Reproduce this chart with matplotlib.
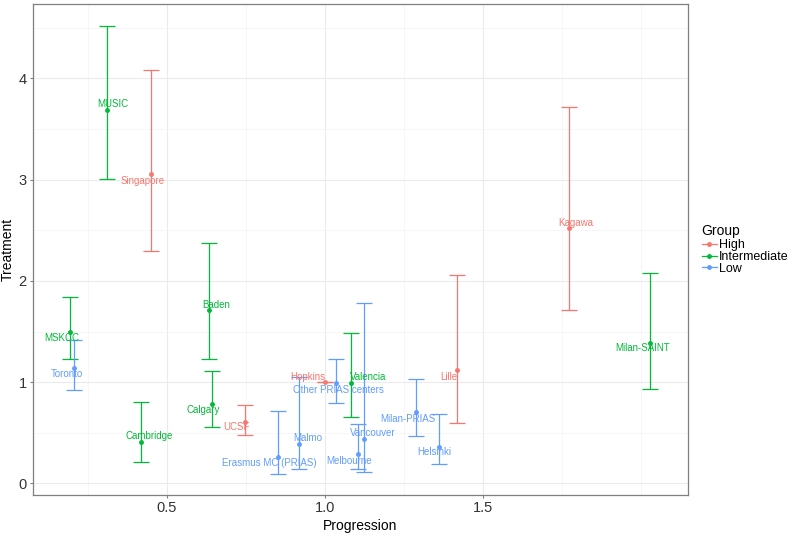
#!/usr/bin/env python3
"""
Treatment vs Progression par cohorte, avec intervalles
"""

import matplotlib
matplotlib.use("Agg")
import matplotlib.pyplot as plt
from matplotlib.lines import Line2D
from matplotlib.ticker import MultipleLocator

plt.rcParams['font.family'] = ['Liberation Sans', 'DejaVu Sans']

# Données
cohorts = ["MSKCC", "Toronto", "MUSIC", "Singapore", "Cambridge", "Baden", "Calgary",
           "UCSF", "Erasmus MC (PRIAS)", "Malmo", "Hopkins", "Other PRIAS centers",
           "Valencia", "Vancouver", "Melbourne", "Milan-PRIAS", "Helsinki", "Lille",
           "Kagawa", "Milan-SAINT"]
groups = ["Intermediate", "Low", "Intermediate", "High", "Intermediate", "Intermediate",
          "Intermediate", "High", "Low", "Low", "High", "Low",
          "Intermediate", "Low", "Low", "Low", "Low", "High",
          "High", "Intermediate"]
progression = [0.193, 0.206, 0.310, 0.450, 0.418, 0.633, 0.642,
               0.747, 0.851, 0.918, 1.000, 1.034,
               1.081, 1.124, 1.104, 1.289, 1.360, 1.419,
               1.772, 2.030]
treatment = [1.50, 1.14, 3.69, 3.06, 0.41, 1.71, 0.78,
             0.61, 0.26, 0.39, 1.00, 0.99,
             0.995, 0.44, 0.29, 0.70, 0.36, 1.12,
             2.52, 1.39]
treat_low = [1.23, 0.92, 3.01, 2.30, 0.21, 1.23, 0.56,
             0.48, 0.09, 0.14, 1.00, 0.79,
             0.66, 0.11, 0.14, 0.47, 0.19, 0.60,
             1.71, 0.93]
treat_high = [1.84, 1.42, 4.52, 4.08, 0.80, 2.37, 1.11,
              0.77, 0.71, 1.05, 1.00, 1.23,
              1.49, 1.78, 0.59, 1.03, 0.69, 2.06,
              3.72, 2.08]

group_order = ["High", "Intermediate", "Low"]
colors = {"High": "#F8766D", "Intermediate": "#00BA38", "Low": "#619CFF"}

# décalage des étiquettes (points), mise en page seulement
label_offsets = [(-6, -5), (-5, -4), (4, 4), (-6, -5), (6, 4), (5, 4), (-6, -4),
                 (-6, -4), (-6, -4), (6, 4), (-12, 4), (2, -5),
                 (13, 4), (6, 4), (-6, -5), (-6, -5), (-3, -4), (-6, -5),
                 (5, 4), (-6, -4)]

fig = plt.figure(figsize=(7.92, 5.36), dpi=100)
ax = fig.add_axes([33 / 792, 1 - 495 / 536, (688 - 33) / 792, (495 - 4) / 536])

for i, name in enumerate(cohorts):
    c = colors[groups[i]]
    x, y = progression[i], treatment[i]
    ax.errorbar(x, y, yerr=[[y - treat_low[i]], [treat_high[i] - y]],
                fmt='o', color=c, ecolor=c, markersize=2.5, elinewidth=0.9,
                capsize=5.8, capthick=0.9, zorder=3)
    dx, dy = label_offsets[i]
    ax.annotate(name, (x, y), xytext=(dx, dy), textcoords='offset points',
                ha='center', va='center', fontsize=7, color=c, zorder=4)

ax.set_xlim(0.076, 2.149)
ax.set_ylim(-0.115, 4.735)
ax.set_xticks([0.5, 1.0, 1.5])
ax.set_xticklabels(["0.5", "1.0", "1.5"])
ax.set_yticks([0, 1, 2, 3, 4])
ax.xaxis.set_minor_locator(MultipleLocator(0.25))
ax.yaxis.set_minor_locator(MultipleLocator(0.5))

ax.grid(True, which='major', color='#EBEBEB', linewidth=0.8, zorder=0)
ax.grid(True, which='minor', color='#F3F3F3', linewidth=0.5, zorder=0)
ax.set_axisbelow(True)
for s in ax.spines.values():
    s.set_color('#7F7F7F')
    s.set_linewidth(0.9)
ax.tick_params(which='major', length=2.5, color='#7F7F7F', labelsize=10.5,
               labelcolor='#333333', pad=2)
ax.tick_params(which='minor', length=0)

ax.set_xlabel('Progression', fontsize=10, labelpad=3)
ax.set_ylabel('Treatment', fontsize=10, labelpad=3)

handles = [Line2D([], [], color=colors[g], marker='o', markersize=2.5,
                  linewidth=0.9) for g in group_order]
leg = fig.legend(handles, group_order, title='Group', loc='upper left',
                 bbox_to_anchor=(693 / 792, 1 - 215 / 536), frameon=False,
                 fontsize=9, title_fontsize=10, handlelength=1.2,
                 handletextpad=0.15, labelspacing=-0.02, borderpad=0.2)
leg._legend_box.align = "left"
leg._legend_box.sep = 1

fig.savefig('out.png', dpi=100)
plt.close(fig)
